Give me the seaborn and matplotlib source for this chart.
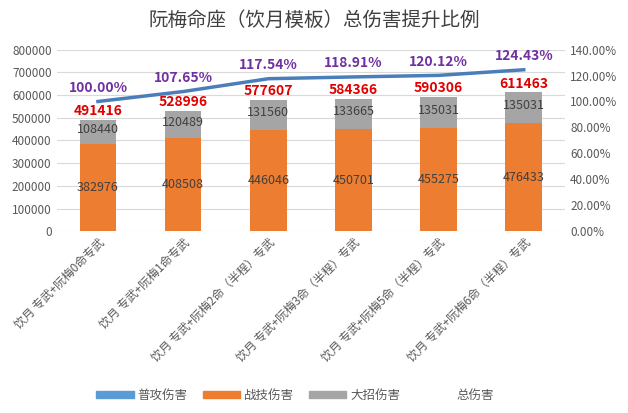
import matplotlib.pyplot as plt
import seaborn as sns
import pandas as pd
from matplotlib import font_manager
from matplotlib.patches import Patch
from matplotlib.lines import Line2D

cjk = [f.name for f in font_manager.fontManager.ttflist if "CJK" in f.name]
plt.rcParams["font.family"] = sorted(set(cjk), key=lambda n: "SC" not in n)[:1] + ["DejaVu Sans"]

labels = ["饮月 专武+阮梅0命专武", "饮月 专武+阮梅1命专武", "饮月 专武+阮梅2命（半程）专武",
          "饮月 专武+阮梅3命（半程）专武", "饮月 专武+阮梅5命（半程）专武", "饮月 专武+阮梅6命（半程）专武"]
skill = [382976, 408508, 446046, 450701, 455275, 476433]
ult = [108440, 120489, 131560, 133665, 135031, 135031]
total = [491416, 528996, 577607, 584366, 590306, 611463]
ratio = [1.0, 1.0765, 1.1754, 1.1891, 1.2012, 1.2443]

df = pd.DataFrame({"label": labels, "skill": skill, "ult": ult, "total": total, "ratio": ratio})

fig, ax = plt.subplots(figsize=(6.28, 4.13), dpi=100)
fig.subplots_adjust(left=0.09, right=0.9, top=0.88, bottom=0.44)
sns.barplot(data=df, x="label", y="total", color="#a5a5a5", width=0.43, saturation=1, ax=ax)
sns.barplot(data=df, x="label", y="skill", color="#ed7d31", width=0.43, saturation=1, ax=ax)
ax.set_ylim(0, 800000)
ax.set_yticks(range(0, 800001, 100000))
ax.set_xlabel("")
ax.set_ylabel("")
ax.tick_params(axis="both", length=0, labelsize=8.5, colors="#595959")
ax.set_xticks(range(len(labels)))
ax.set_xticklabels(labels, rotation=45, ha="right", rotation_mode="anchor")
ax.grid(axis="y", color="#d9d9d9", lw=0.8)
ax.set_axisbelow(True)
for s in ax.spines.values():
    s.set_visible(False)

for i in range(len(labels)):
    ax.text(i, skill[i] / 2, str(skill[i]), ha="center", va="center", fontsize=9, color="#404040")
    ax.text(i, skill[i] + ult[i] / 2 + 10000, str(ult[i]), ha="center", va="center", fontsize=9, color="#404040")
    ax.text(i, total[i] + 8000, str(total[i]), ha="center", va="bottom", fontsize=10, color="#e00000", fontweight="bold")

ax2 = ax.twinx()
sns.lineplot(x=list(range(len(labels))), y=ratio, color="#4a7ebb", lw=2.5, ax=ax2)
ax2.set_ylim(0, 1.4)
ax2.set_yticks([i * 0.2 for i in range(8)])
ax2.set_yticklabels([f"{i * 20:.2f}%" for i in range(8)])
ax2.tick_params(length=0, labelsize=8.5, colors="#595959")
for s in ax2.spines.values():
    s.set_visible(False)
for i, r in enumerate(ratio):
    ax2.text(i, r + 0.05, f"{r * 100:.2f}%", ha="center", va="bottom", fontsize=10, color="#7030a0", fontweight="bold")

fig.suptitle("阮梅命座（饮月模板）总伤害提升比例", fontsize=14, color="#404040", y=0.975)
handles = [Patch(color="#5b9bd5"), Patch(color="#ed7d31"), Patch(color="#a5a5a5"), Line2D([], [], color="none")]
fig.legend(handles, ["普攻伤害", "战技伤害", "大招伤害", "总伤害"], loc="lower center", ncol=4,
           frameon=False, fontsize=9, bbox_to_anchor=(0.47, 0.0), handlelength=3, handleheight=0.5,
           columnspacing=1.2, handletextpad=0.3, labelcolor="#595959")
fig.savefig("out.png")
